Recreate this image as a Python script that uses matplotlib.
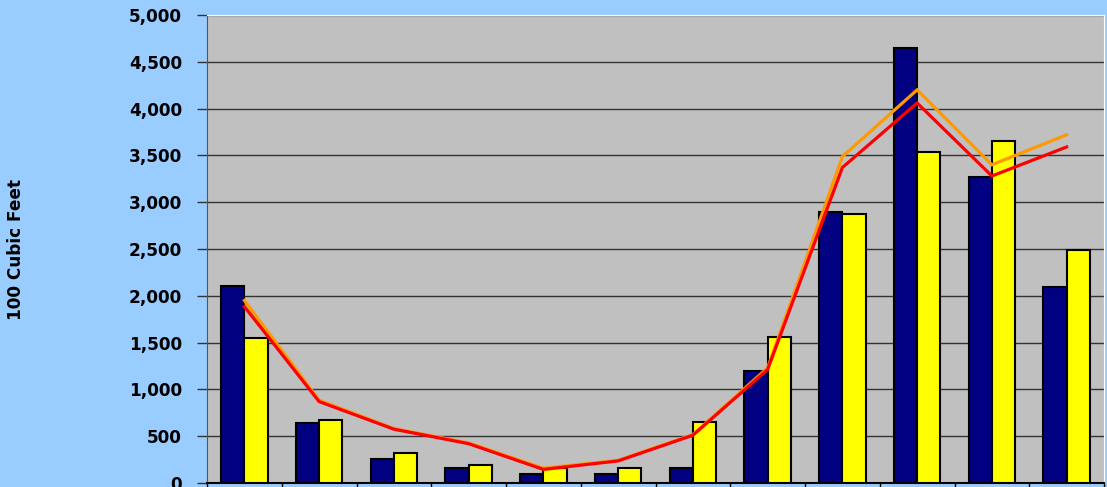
import numpy as np
import matplotlib.pyplot as plt

# --- Datos ---------------------------------------------------------------
months = ['Oct', 'Nov', 'Dec', 'Jan', 'Feb', 'Mar', 'Apr', 'May', 'Jun', 'Jul', 'Aug', 'Sep']
navy_vals = [2105, 640, 255, 160, 95, 95, 160, 1200, 2890, 4645, 3270, 2090]
yellow_vals = [1548, 668, 320, 190, 157, 157, 652, 1562, 2872, 3540, 3656, 2490]
orange_line = [1950, 885, 582, 428, 158, 242, 518, 1230, 3488, 4200, 3400, 3720]
red_line = [1885, 870, 575, 420, 145, 236, 510, 1212, 3370, 4060, 3280, 3590]
yticks = list(range(0, 5001, 500))

# --- Figura --------------------------------------------------------------
fig = plt.figure(figsize=(11.07, 4.87), dpi=100)
fig.patch.set_facecolor('#99CCFF')
ax = fig.add_axes([207/1107, 4/487, (1104-207)/1107, (483-15)/487])
ax.set_facecolor('#C0C0C0')

x = np.arange(len(months))
w = 0.31
ax.bar(x - w/2, navy_vals, w, color='#000080', edgecolor='black', linewidth=1.5, zorder=3)
ax.bar(x + w/2, yellow_vals, w, color='#FFFF00', edgecolor='black', linewidth=1.5, zorder=3)
ax.plot(x, orange_line, color='#FF9900', linewidth=2.3, zorder=4, solid_joinstyle='miter')
ax.plot(x, red_line, color='#FF0000', linewidth=2.3, zorder=5, solid_joinstyle='miter')

ax.set_xlim(-0.5, len(months) - 0.5)
ax.set_ylim(0, 5000)
ax.set_yticks(yticks)
ax.set_yticklabels([f'{v:,}' for v in yticks], fontsize=12.2, fontweight='bold')
ax.set_xticks(np.arange(len(months) + 1) - 0.5)
ax.set_xticklabels([])
ax.tick_params(axis='y', length=7, width=1, pad=11, color='#333333')
ax.tick_params(axis='x', length=6, width=1, color='black')

ax.yaxis.grid(True, color='#333333', linewidth=1, zorder=1)
ax.set_axisbelow(True)

ax.spines['left'].set_color('#555555')
ax.spines['bottom'].set_color('black')
ax.spines['bottom'].set_linewidth(1.5)
ax.spines['top'].set_color('white')
ax.spines['right'].set_color('white')

fig.text(16/1107, 1 - 249/487, '100 Cubic Feet', rotation=90, fontsize=12.2,
         fontweight='bold', ha='center', va='center')

fig.savefig('out.png', dpi=100, facecolor=fig.get_facecolor())
